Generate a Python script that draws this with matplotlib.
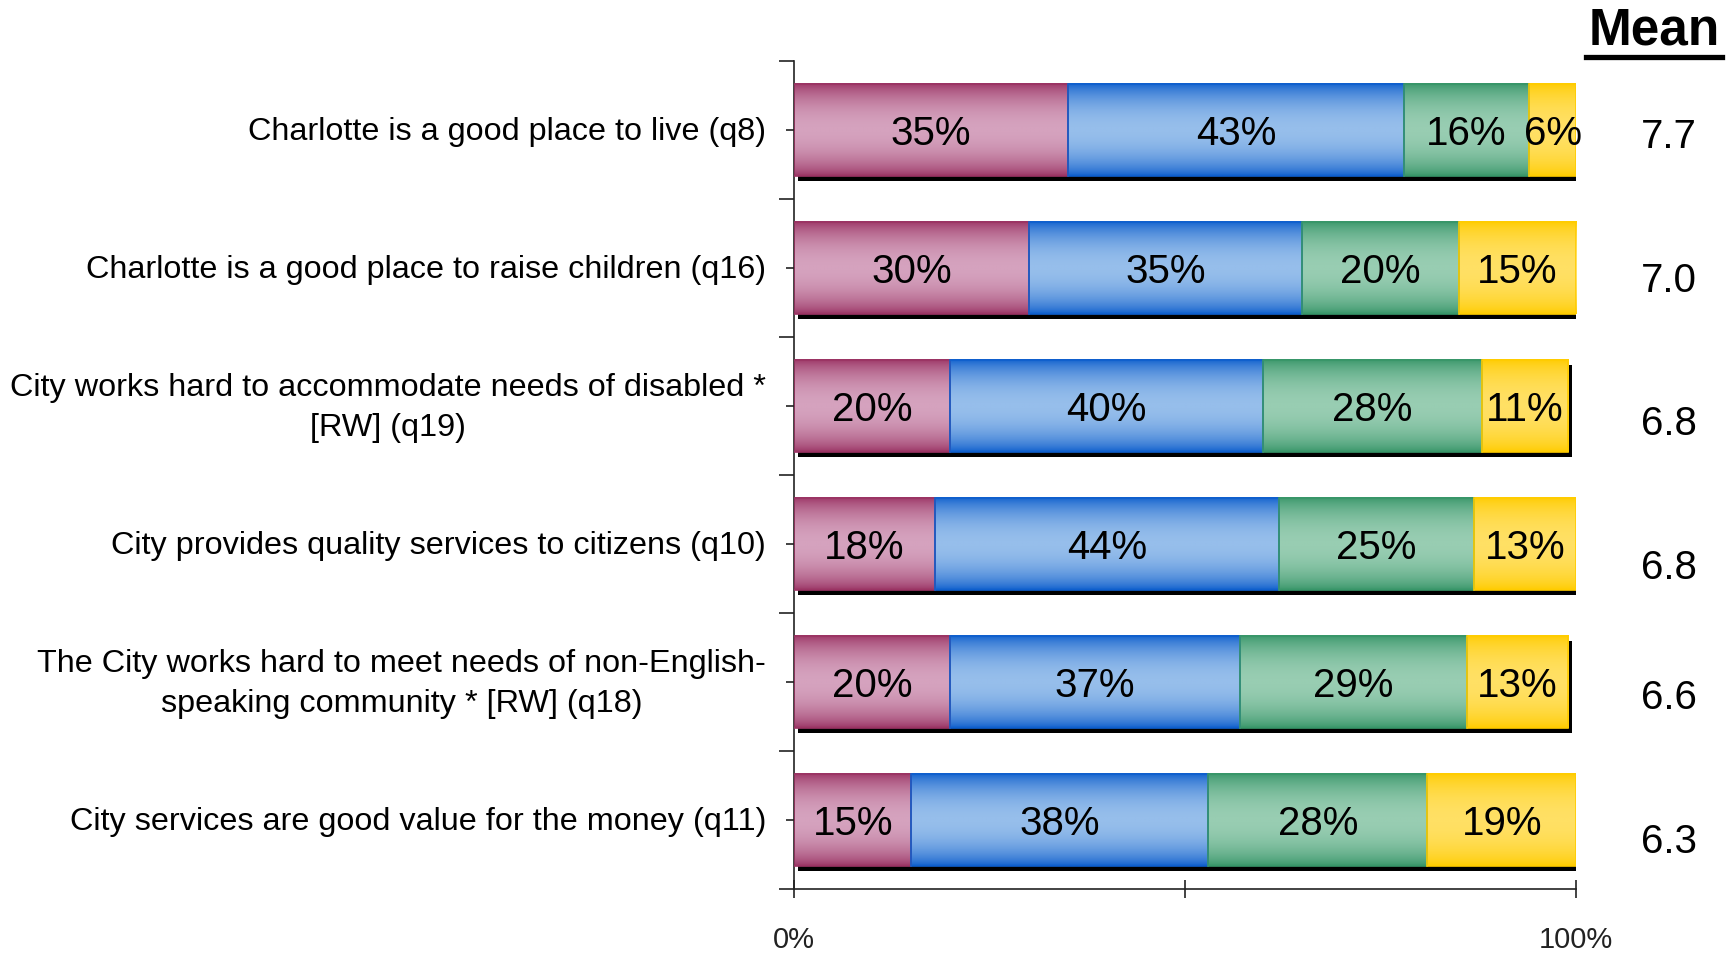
import numpy as np
import matplotlib
matplotlib.use("Agg")
import matplotlib.pyplot as plt
from matplotlib.colors import LinearSegmentedColormap
from matplotlib.patches import Rectangle
from matplotlib.transforms import ScaledTranslation

plt.rcParams['font.family'] = ['Liberation Sans', 'DejaVu Sans']

statements = [
    "Charlotte is a good place to live (q8)",
    "Charlotte is a good place to raise children (q16)",
    "City works hard to accommodate needs of disabled *\n[RW] (q19)",
    "City provides quality services to citizens (q10)",
    "The City works hard to meet needs of non-English-\nspeaking community * [RW] (q18)",
    "City services are good value for the money (q11)",
]
seg1 = [35, 30, 20, 18, 20, 15]
seg2 = [43, 35, 40, 44, 37, 38]
seg3 = [16, 20, 28, 25, 29, 28]
seg4 = [6, 15, 11, 13, 13, 19]
means = ["7.7", "7.0", "6.8", "6.8", "6.6", "6.3"]

# (edge colour, centre colour) for the vertical gradient of each segment
palette = [
    ("#9b3464", "#d5a2be"),
    ("#0f5fcd", "#96beeb"),
    ("#389669", "#98cdb2"),
    ("#ffcc00", "#ffe064"),
]

W, H, DPI = 1735, 955, 100
fig = plt.figure(figsize=(W / DPI, H / DPI), dpi=DPI)
ax = fig.add_axes([794 / W, 1 - 889 / H, (1576 - 794) / W, (889 - 61) / H])

n = len(statements)
ax.set_xlim(0, 100)
ax.set_ylim(n, 0)
bar_h = 0.67

s = np.linspace(0, 1, 64)
profile = np.sin(np.pi * s) ** 0.7
grad = profile.reshape(-1, 1)

shadow = ax.transData + ScaledTranslation(4 / DPI, -5 / DPI, fig.dpi_scale_trans)
series = [seg1, seg2, seg3, seg4]
for i in range(n):
    yc = i + 0.5
    y0, y1 = yc - bar_h / 2, yc + bar_h / 2
    total = sum(ser[i] for ser in series)
    ax.add_patch(Rectangle((0, y0), total, bar_h, facecolor="black",
                           edgecolor="none", transform=shadow, zorder=1))
    left = 0
    for k, ser in enumerate(series):
        v = ser[i]
        cmap = LinearSegmentedColormap.from_list("g%d" % k, palette[k])
        ax.imshow(grad, cmap=cmap, vmin=0, vmax=1, aspect="auto",
                  extent=(left, left + v, y1, y0), interpolation="bilinear",
                  zorder=2)
        ax.add_patch(Rectangle((left, y0), v, bar_h, facecolor="none",
                               edgecolor=palette[k][0], lw=1.2, zorder=3))
        ax.text(left + v / 2, yc, "%d%%" % v, ha="center", va="center_baseline",
                fontsize=29, color="black", zorder=4)
        left += v

ax.set_xlim(0, 100)
ax.set_ylim(n, 0)

# axes and ticks
for side in ("top", "right"):
    ax.spines[side].set_visible(False)
for side in ("left", "bottom"):
    ax.spines[side].set_linewidth(1.2)
    ax.spines[side].set_color("#222222")

ax.set_yticks(np.arange(n + 1))
ax.set_yticklabels([])
ax.set_yticks(np.arange(n) + 0.5, minor=True)
ax.tick_params(axis="y", which="major", direction="out", length=10.5,
               width=1.2, color="#222222")
ax.tick_params(axis="y", which="minor", direction="inout", length=11,
               width=1.2, color="#222222")

ax.set_xticks([0, 50, 100])
ax.set_xticklabels(["0%", "", "100%"])
ax.tick_params(axis="x", direction="inout", length=13, width=1.2,
               color="#222222", pad=20, labelsize=21, labelcolor="#222222")
for lab in ax.get_xticklabels():
    lab.set_family(["Liberation Sans Narrow", "Liberation Sans", "DejaVu Sans"])

for i, name in enumerate(statements):
    ax.annotate(name, xy=(0, i + 0.5), xycoords=("axes fraction", "data"),
                xytext=(-28, -2), textcoords="offset pixels",
                ha="right", va="center", multialignment="center",
                fontsize=23.3, linespacing=1.45)

# mean column
fig.text(1654 / W, 1 - 31 / H, "Mean", ha="center", va="center",
         fontsize=37, fontweight="bold")
fig.add_artist(plt.Line2D([1586 / W, 1722 / W], [1 - 57 / H, 1 - 57 / H],
                          color="black", lw=3.8))
mean_y = [133, 277, 420, 564, 694, 838]
for m, yp in zip(means, mean_y):
    fig.text(1669 / W, 1 - yp / H, m, ha="center", va="center_baseline",
             fontsize=29)

fig.savefig("out.png", dpi=DPI)
